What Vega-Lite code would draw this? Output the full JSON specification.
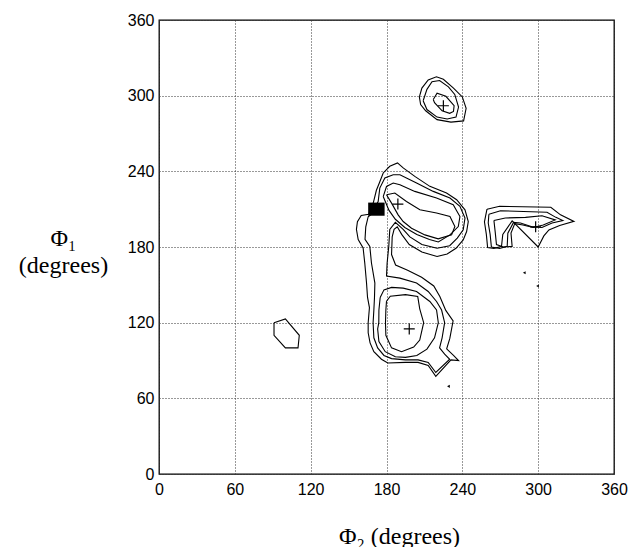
{
"$schema":"https://vega.github.io/schema/vega-lite/v6.json",
"width":455,"height":454,
"autosize":"none",
"padding":{"left":159,"top":20,"right":15,"bottom":73},
"config":{"view":{"stroke":"#000","strokeWidth":1.3},"font":"Liberation Sans"},
"datasets":{
"lines":[
{"c":"L1","o":1,"x":166,"y":206},{"c":"L1","o":2,"x":169.7,"y":215.6},{"c":"L1","o":3,"x":172,"y":225},{"c":"L1","o":4,"x":174.4,"y":231},{"c":"L1","o":5,"x":177.4,"y":238.7},{"c":"L1","o":6,"x":182.6,"y":244},{"c":"L1","o":7,"x":188.7,"y":246.7},{"c":"L1","o":8,"x":193.2,"y":242.7},{"c":"L1","o":9,"x":202.4,"y":236},{"c":"L1","o":10,"x":214.3,"y":228.1},{"c":"L1","o":11,"x":227.5,"y":222.8},{"c":"L1","o":12,"x":235.5,"y":217.5},{"c":"L1","o":13,"x":242.1,"y":209.5},{"c":"L1","o":14,"x":244.7,"y":200.2},{"c":"L1","o":15,"x":243.4,"y":192.3},{"c":"L1","o":16,"x":240.7,"y":185.6},{"c":"L1","o":17,"x":235,"y":179},{"c":"L1","o":18,"x":228,"y":174.5},{"c":"L1","o":19,"x":220,"y":172.5},{"c":"L1","o":20,"x":208,"y":176},{"c":"L1","o":21,"x":198,"y":182},{"c":"L1","o":22,"x":192,"y":190},{"c":"L1","o":23,"x":188.5,"y":196},{"c":"L1","o":24,"x":186,"y":194},{"c":"L1","o":25,"x":184.5,"y":188},{"c":"L1","o":26,"x":184,"y":174},{"c":"L1","o":27,"x":187.2,"y":165.7},{"c":"L1","o":28,"x":196.7,"y":161.6},{"c":"L1","o":29,"x":207.8,"y":156},{"c":"L1","o":30,"x":217.4,"y":149.1},{"c":"L1","o":31,"x":222.2,"y":140.8},{"c":"L1","o":32,"x":226.9,"y":129.7},{"c":"L1","o":33,"x":232.7,"y":121.4},{"c":"L1","o":34,"x":230.1,"y":107.5},{"c":"L1","o":35,"x":227.6,"y":99.2},{"c":"L1","o":36,"x":233,"y":94},{"c":"L1","o":37,"x":237,"y":90},{"c":"L1","o":38,"x":231,"y":90.5},{"c":"L1","o":39,"x":219,"y":77.5},{"c":"L1","o":40,"x":213,"y":86},{"c":"L1","o":41,"x":205,"y":88.5},{"c":"L1","o":42,"x":195,"y":88.5},{"c":"L1","o":43,"x":181,"y":88},{"c":"L1","o":44,"x":176,"y":91},{"c":"L1","o":45,"x":170,"y":97},{"c":"L1","o":46,"x":167,"y":104},{"c":"L1","o":47,"x":165.5,"y":112},{"c":"L1","o":48,"x":165.5,"y":120},{"c":"L1","o":49,"x":166.5,"y":132},{"c":"L1","o":50,"x":165,"y":140},{"c":"L1","o":51,"x":164.2,"y":151.4},{"c":"L1","o":52,"x":162.8,"y":167.3},{"c":"L1","o":53,"x":161.5,"y":179.2},{"c":"L1","o":54,"x":157.6,"y":185.9},{"c":"L1","o":55,"x":156.2,"y":194},{"c":"L1","o":56,"x":157,"y":200},{"c":"L1","o":57,"x":160,"y":205},{"c":"L1","o":58,"x":166,"y":206},
{"c":"L2","o":1,"x":168,"y":206},{"c":"L2","o":2,"x":171,"y":212},{"c":"L2","o":3,"x":173.4,"y":216},{"c":"L2","o":4,"x":174.7,"y":226.7},{"c":"L2","o":5,"x":178.7,"y":234.7},{"c":"L2","o":6,"x":185.3,"y":237.3},{"c":"L2","o":7,"x":190.6,"y":237.3},{"c":"L2","o":8,"x":203.8,"y":230.7},{"c":"L2","o":9,"x":217,"y":224.1},{"c":"L2","o":10,"x":230.2,"y":218.8},{"c":"L2","o":11,"x":238.1,"y":212.2},{"c":"L2","o":12,"x":242.1,"y":203},{"c":"L2","o":13,"x":240.7,"y":193.6},{"c":"L2","o":14,"x":236,"y":187},{"c":"L2","o":15,"x":230,"y":181},{"c":"L2","o":16,"x":220,"y":179},{"c":"L2","o":17,"x":208,"y":182},{"c":"L2","o":18,"x":198.5,"y":188},{"c":"L2","o":19,"x":193.2,"y":194},{"c":"L2","o":20,"x":187,"y":199.5},{"c":"L2","o":21,"x":182.6,"y":194},{"c":"L2","o":22,"x":181.8,"y":180.5},{"c":"L2","o":23,"x":180.5,"y":167.3},{"c":"L2","o":24,"x":180,"y":157},{"c":"L2","o":25,"x":190.6,"y":155.3},{"c":"L2","o":26,"x":203.8,"y":151.4},{"c":"L2","o":27,"x":213,"y":144.7},{"c":"L2","o":28,"x":219.6,"y":136.8},{"c":"L2","o":29,"x":223.6,"y":130},{"c":"L2","o":30,"x":226,"y":120},{"c":"L2","o":31,"x":224,"y":108},{"c":"L2","o":32,"x":222,"y":100},{"c":"L2","o":33,"x":226,"y":95},{"c":"L2","o":34,"x":230,"y":91},{"c":"L2","o":35,"x":219,"y":80.5},{"c":"L2","o":36,"x":213,"y":88.5},{"c":"L2","o":37,"x":205,"y":90.5},{"c":"L2","o":38,"x":195,"y":90.5},{"c":"L2","o":39,"x":184,"y":91.5},{"c":"L2","o":40,"x":178,"y":94},{"c":"L2","o":41,"x":173,"y":100},{"c":"L2","o":42,"x":170,"y":108},{"c":"L2","o":43,"x":169.4,"y":120},{"c":"L2","o":44,"x":170,"y":130},{"c":"L2","o":45,"x":170.5,"y":140},{"c":"L2","o":46,"x":170.8,"y":151.4},{"c":"L2","o":47,"x":168.1,"y":167.3},{"c":"L2","o":48,"x":166.8,"y":180.5},{"c":"L2","o":49,"x":163,"y":186},{"c":"L2","o":50,"x":163.6,"y":196},{"c":"L2","o":51,"x":165.5,"y":204},{"c":"L2","o":52,"x":168,"y":206},
{"c":"L3a","o":1,"x":177.4,"y":220},{"c":"L3a","o":2,"x":180,"y":228},{"c":"L3a","o":3,"x":185.3,"y":230.7},{"c":"L3a","o":4,"x":190.6,"y":229.4},{"c":"L3a","o":5,"x":202.4,"y":224.1},{"c":"L3a","o":6,"x":219.6,"y":218.8},{"c":"L3a","o":7,"x":232.8,"y":213.5},{"c":"L3a","o":8,"x":238.1,"y":204.2},{"c":"L3a","o":9,"x":236.8,"y":196.2},{"c":"L3a","o":10,"x":230.2,"y":189.6},{"c":"L3a","o":11,"x":221,"y":184},{"c":"L3a","o":12,"x":214,"y":186},{"c":"L3a","o":13,"x":204,"y":190},{"c":"L3a","o":14,"x":194.5,"y":195.5},{"c":"L3a","o":15,"x":187,"y":202},{"c":"L3a","o":16,"x":182,"y":209},{"c":"L3a","o":17,"x":177.4,"y":220},
{"c":"L4a","o":1,"x":180,"y":221.4},{"c":"L4a","o":2,"x":186.6,"y":222.8},{"c":"L4a","o":3,"x":195.8,"y":216.1},{"c":"L4a","o":4,"x":206.4,"y":209.5},{"c":"L4a","o":5,"x":219.6,"y":206.9},{"c":"L4a","o":6,"x":230.2,"y":204.2},{"c":"L4a","o":7,"x":234.1,"y":196.2},{"c":"L4a","o":8,"x":231.5,"y":189.6},{"c":"L4a","o":9,"x":220.9,"y":186.5},{"c":"L4a","o":10,"x":210.4,"y":189.6},{"c":"L4a","o":11,"x":199.8,"y":194.9},{"c":"L4a","o":12,"x":193.2,"y":200.2},{"c":"L4a","o":13,"x":189.2,"y":205.5},{"c":"L4a","o":14,"x":184,"y":214.8},{"c":"L4a","o":15,"x":180,"y":221.4},
{"c":"L3b","o":1,"x":175,"y":140},{"c":"L3b","o":2,"x":178,"y":146},{"c":"L3b","o":3,"x":184,"y":148},{"c":"L3b","o":4,"x":193.2,"y":147.4},{"c":"L3b","o":5,"x":203.8,"y":144.7},{"c":"L3b","o":6,"x":214.3,"y":136.8},{"c":"L3b","o":7,"x":219.6,"y":130.1},{"c":"L3b","o":8,"x":221,"y":120},{"c":"L3b","o":9,"x":218,"y":108},{"c":"L3b","o":10,"x":212,"y":99},{"c":"L3b","o":11,"x":204,"y":94},{"c":"L3b","o":12,"x":195,"y":92.5},{"c":"L3b","o":13,"x":187,"y":93},{"c":"L3b","o":14,"x":179,"y":97},{"c":"L3b","o":15,"x":174,"y":105},{"c":"L3b","o":16,"x":173,"y":115},{"c":"L3b","o":17,"x":173.9,"y":120},{"c":"L3b","o":18,"x":174,"y":130},{"c":"L3b","o":19,"x":175,"y":140},
{"c":"L4b","o":1,"x":180,"y":137},{"c":"L4b","o":2,"x":183,"y":141},{"c":"L4b","o":3,"x":195,"y":142.2},{"c":"L4b","o":4,"x":204.7,"y":140.8},{"c":"L4b","o":5,"x":206.3,"y":131},{"c":"L4b","o":6,"x":209.4,"y":120},{"c":"L4b","o":7,"x":206.3,"y":106.2},{"c":"L4b","o":8,"x":201.5,"y":100.7},{"c":"L4b","o":9,"x":191.9,"y":97},{"c":"L4b","o":10,"x":184,"y":100},{"c":"L4b","o":11,"x":179.5,"y":110},{"c":"L4b","o":12,"x":179.2,"y":120},{"c":"L4b","o":13,"x":179.5,"y":130},{"c":"L4b","o":14,"x":180,"y":137},
{"c":"T1","o":1,"x":206,"y":299},{"c":"T1","o":2,"x":208,"y":306},{"c":"T1","o":3,"x":213,"y":312.5},{"c":"T1","o":4,"x":219.5,"y":315},{"c":"T1","o":5,"x":225,"y":313},{"c":"T1","o":6,"x":233,"y":306},{"c":"T1","o":7,"x":240,"y":299},{"c":"T1","o":8,"x":243,"y":290},{"c":"T1","o":9,"x":241,"y":280},{"c":"T1","o":10,"x":231,"y":279},{"c":"T1","o":11,"x":220,"y":281},{"c":"T1","o":12,"x":211,"y":288},{"c":"T1","o":13,"x":207,"y":293},{"c":"T1","o":14,"x":206,"y":299},
{"c":"T2","o":1,"x":209,"y":296},{"c":"T2","o":2,"x":212,"y":305},{"c":"T2","o":3,"x":216,"y":311},{"c":"T2","o":4,"x":222,"y":312},{"c":"T2","o":5,"x":229,"y":307},{"c":"T2","o":6,"x":234,"y":301},{"c":"T2","o":7,"x":237,"y":291},{"c":"T2","o":8,"x":235,"y":283},{"c":"T2","o":9,"x":228,"y":281.5},{"c":"T2","o":10,"x":220,"y":283},{"c":"T2","o":11,"x":212,"y":289},{"c":"T2","o":12,"x":209,"y":296},
{"c":"T3","o":1,"x":217,"y":297},{"c":"T3","o":2,"x":220,"y":302},{"c":"T3","o":3,"x":227,"y":299.5},{"c":"T3","o":4,"x":233.5,"y":292},{"c":"T3","o":5,"x":233,"y":287.5},{"c":"T3","o":6,"x":230,"y":286},{"c":"T3","o":7,"x":224,"y":288},{"c":"T3","o":8,"x":218,"y":294.5},{"c":"T3","o":9,"x":217,"y":297},
{"c":"B","o":1,"x":91,"y":120},{"c":"B","o":2,"x":100,"y":123},{"c":"B","o":3,"x":111,"y":110},{"c":"B","o":4,"x":110,"y":100},{"c":"B","o":5,"x":100,"y":100},{"c":"B","o":6,"x":91,"y":110},{"c":"B","o":7,"x":91,"y":120},
{"c":"R1","o":1,"x":259.5,"y":210},{"c":"R1","o":2,"x":269.5,"y":212.3},{"c":"R1","o":3,"x":310,"y":211.5},{"c":"R1","o":4,"x":317.7,"y":205.5},{"c":"R1","o":5,"x":328.3,"y":200.3},{"c":"R1","o":6,"x":317,"y":197},{"c":"R1","o":7,"x":308.5,"y":193.5},{"c":"R1","o":8,"x":304.5,"y":188.8},{"c":"R1","o":9,"x":300,"y":180},{"c":"R1","o":10,"x":279.4,"y":200.7},{"c":"R1","o":11,"x":272,"y":190},{"c":"R1","o":12,"x":271,"y":180.5},{"c":"R1","o":13,"x":265,"y":178.8},{"c":"R1","o":14,"x":260,"y":179.6},{"c":"R1","o":15,"x":259,"y":190},{"c":"R1","o":16,"x":257.5,"y":200},{"c":"R1","o":17,"x":259.5,"y":210},
{"c":"R2","o":1,"x":261,"y":206},{"c":"R2","o":2,"x":270.2,"y":208.8},{"c":"R2","o":3,"x":307,"y":207.5},{"c":"R2","o":4,"x":314,"y":203.5},{"c":"R2","o":5,"x":319.5,"y":201},{"c":"R2","o":6,"x":311,"y":199},{"c":"R2","o":7,"x":303,"y":195.5},{"c":"R2","o":8,"x":295,"y":196},{"c":"R2","o":9,"x":286,"y":199},{"c":"R2","o":10,"x":280.5,"y":199.5},{"c":"R2","o":11,"x":276,"y":191},{"c":"R2","o":12,"x":275.5,"y":180.5},{"c":"R2","o":13,"x":269.5,"y":178.8},{"c":"R2","o":14,"x":263,"y":180},{"c":"R2","o":15,"x":262,"y":190},{"c":"R2","o":16,"x":260.5,"y":199},{"c":"R2","o":17,"x":261,"y":206},
{"c":"R3","o":1,"x":265,"y":201},{"c":"R3","o":2,"x":274,"y":203},{"c":"R3","o":3,"x":290,"y":203.5},{"c":"R3","o":4,"x":303,"y":204.8},{"c":"R3","o":5,"x":313.5,"y":201.5},{"c":"R3","o":6,"x":304,"y":197.5},{"c":"R3","o":7,"x":296,"y":195.5},{"c":"R3","o":8,"x":288,"y":197.5},{"c":"R3","o":9,"x":281.5,"y":198.5},{"c":"R3","o":10,"x":278.5,"y":191},{"c":"R3","o":11,"x":279.4,"y":180.5},{"c":"R3","o":12,"x":272.5,"y":180},{"c":"R3","o":13,"x":267,"y":182},{"c":"R3","o":14,"x":266,"y":192},{"c":"R3","o":15,"x":265,"y":201}
],
"plus":[{"x":225,"y":292},{"x":189,"y":214},{"x":198,"y":115},{"x":298,"y":196}],
"blob":[{"x":172,"y":210}],
"dots":[{"x":289,"y":159.6},{"x":299.5,"y":149.1},{"x":229,"y":69.5}]
},
"encoding":{
"x":{"field":"x","type":"quantitative","scale":{"domain":[0,360],"nice":false},
"axis":{"values":[0,60,120,180,240,300,360],"grid":true,"gridDash":[1,2],"gridColor":"#333","gridWidth":1,"ticks":false,"domain":false,
"labelFont":"Liberation Sans","labelFontSize":16,"labelColor":"#000","labelPadding":7,"labelFlush":false,
"title":"Φ₂ (degrees)","titleFont":"Liberation Serif","titleFontSize":24,"titleFontWeight":"normal","titleColor":"#000",
"titleX":240,"titleY":69,"titleAlign":"center","titleBaseline":"alphabetic","titleAnchor":null}},
"y":{"field":"y","type":"quantitative","scale":{"domain":[0,360],"nice":false},
"axis":{"values":[0,60,120,180,240,300,360],"grid":true,"gridDash":[1,2],"gridColor":"#333","gridWidth":1,"ticks":false,"domain":false,
"labelFont":"Liberation Sans","labelFontSize":16,"labelColor":"#000","labelPadding":5,
"title":["Φ₁","(degrees)"],"titleFont":"Liberation Serif","titleFontSize":24,"titleFontWeight":"normal","titleColor":"#000",
"titleAngle":0,"titleX":-96,"titleY":225,"titleAlign":"center","titleBaseline":"alphabetic","titleLineHeight":27,"titleAnchor":null}}
},
"layer":[
{"data":{"name":"lines"},"mark":{"type":"line","color":"#000","strokeWidth":1.1},"encoding":{"detail":{"field":"c"},"order":{"field":"o","type":"quantitative"}}},
{"data":{"name":"plus"},"mark":{"type":"point","shape":"M-1,0L1,0M0,-1L0,1","size":121,"stroke":"#000","strokeWidth":1.2,"filled":false,"opacity":1}},
{"data":{"name":"blob"},"mark":{"type":"point","shape":"M-1,-0.8L1,-0.8L1,0.8L-1,0.8Z","size":270,"filled":true,"color":"#000","opacity":1}},
{"data":{"name":"dots"},"mark":{"type":"point","shape":"triangle-left","size":10,"filled":true,"color":"#000","opacity":1}}
]
}
